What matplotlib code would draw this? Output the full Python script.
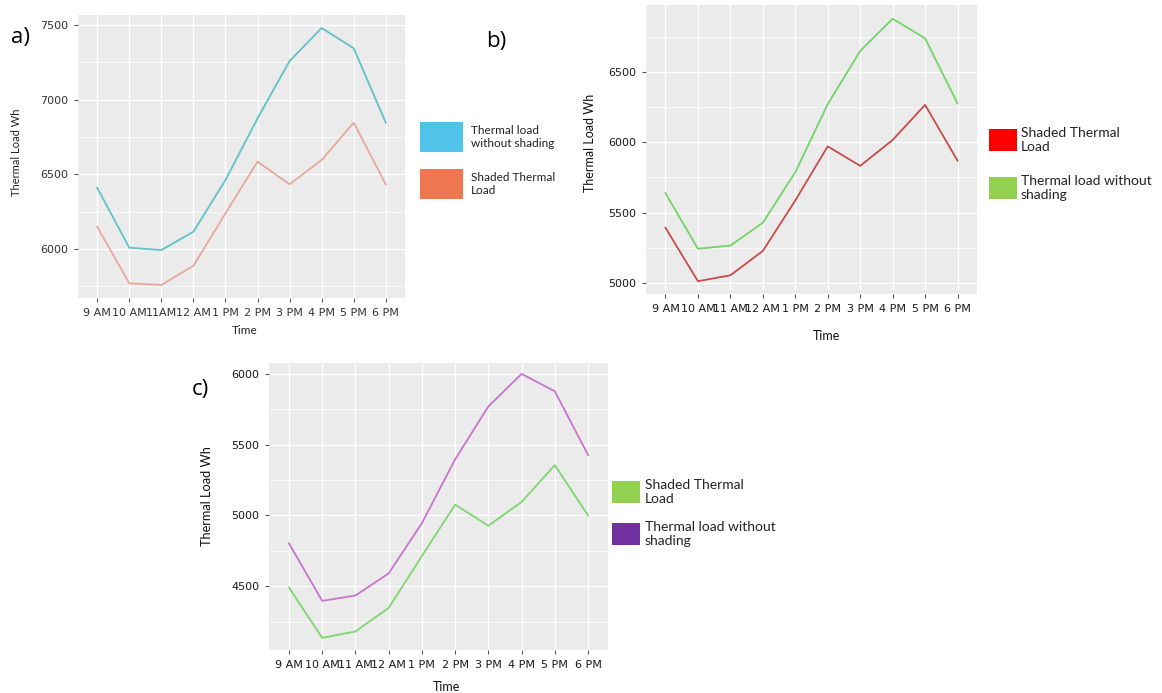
import matplotlib
matplotlib.use("Agg")
import matplotlib.pyplot as plt
from matplotlib.patches import Rectangle
from matplotlib.ticker import MultipleLocator

W, H = 1162, 693

hours_a = ["9 AM", "10 AM", "11AM", "12 AM", "1 PM", "2 PM", "3 PM", "4 PM", "5 PM", "6 PM"]
hours_bc = ["9 AM", "10 AM", "11 AM", "12 AM", "1 PM", "2 PM", "3 PM", "4 PM", "5 PM", "6 PM"]

# Panel a
a_without = [6410, 6009, 5993, 6116, 6462, 6875, 7259, 7480, 7344, 6846]
a_shaded = [6149, 5770, 5759, 5888, 6239, 6585, 6433, 6596, 6846, 6433]
# Panel b
b_without = [5638, 5243, 5265, 5428, 5787, 6271, 6649, 6878, 6739, 6276]
b_shaded = [5392, 5012, 5054, 5227, 5586, 5971, 5832, 6016, 6266, 5869]
# Panel c
c_without = [4803, 4396, 4434, 4590, 4945, 5396, 5770, 6000, 5877, 5427]
c_shaded = [4491, 4135, 4180, 4346, 4713, 5076, 4927, 5095, 5355, 5000]

plt.rcParams['font.family'] = ['Lato', 'DejaVu Sans']

fig = plt.figure(figsize=(W / 100, H / 100), dpi=100)
fig.patch.set_facecolor("white")


def box(l, t, r, b):
    return [l / W, 1 - b / H, (r - l) / W, (b - t) / H]


def fx(x):
    return x / W


def fy(y):
    return 1 - y / H


def make_panel(rect, labels, series, ylim, yticks, tick_color):
    ax = fig.add_axes(box(*rect))
    ax.set_facecolor("#EBEBEB")
    x = list(range(len(labels)))
    for vals, col in series:
        ax.plot(x, vals, color=col, lw=1.3, solid_joinstyle="round")
    ax.set_xlim(-0.6, len(labels) - 1 + 0.6)
    ax.set_ylim(*ylim)
    ax.set_xticks(x)
    ax.set_xticklabels(labels, fontsize=8, color=tick_color,
                       family=["DejaVu Sans"])
    ax.set_yticks(yticks)
    ax.set_yticklabels([str(v) for v in yticks], fontsize=8, color=tick_color,
                       family=["DejaVu Sans"])
    ax.yaxis.set_minor_locator(MultipleLocator(250))
    ax.grid(True, which="major", color="white", lw=1.0)
    ax.grid(True, which="minor", axis="y", color="white", lw=0.5)
    ax.set_axisbelow(True)
    for s in ax.spines.values():
        s.set_visible(False)
    ax.tick_params(axis="both", which="major", length=3, color="#555555", pad=4)
    ax.tick_params(axis="y", which="minor", length=0)
    return ax


def legend(entries, x0, y0, kw, kh, gap, tx, fs, ls):
    for i, (col, txt) in enumerate(entries):
        top = y0 + i * gap
        fig.add_artist(Rectangle((fx(x0), fy(top + kh)), kw / W, kh / H,
                                 transform=fig.transFigure, facecolor=col,
                                 edgecolor="none"))
        fig.text(fx(tx), fy(top + kh / 2), txt, fontsize=fs, color="#222222",
                 va="center", ha="left", linespacing=ls)


# Panel a
ax_a = make_panel((78, 15, 405, 298), hours_a,
                  [(a_without, "#5EC3C9"), (a_shaded, "#E7A89B")],
                  (5672, 7567), [6000, 6500, 7000, 7500], "#333333")
fig.text(fx(17), fy(152), "Thermal Load Wh", rotation=90, fontsize=8,
         ha="center", va="center", color="#222222")
fig.text(fx(245), fy(331), "Time", fontsize=8.5, ha="center", va="center",
         color="#222222")
legend([("#4FC3E8", "Thermal load\nwithout shading"),
        ("#EE7650", "Shaded Thermal\nLoad")], 420, 122, 43, 30, 47, 471, 8.5, 1.3)
fig.text(fx(11), fy(37), "a)", fontsize=16, ha="left", va="center",
         family=["Open Sans", "DejaVu Sans"])

# Panel b
ax_b = make_panel((646, 5, 977, 294), hours_bc,
                  [(b_without, "#72D466"), (b_shaded, "#C84B4B")],
                  (4921, 6976), [5000, 5500, 6000, 6500], "#1A1A1A")
fig.text(fx(590), fy(143), "Thermal Load Wh", rotation=90, fontsize=9,
         ha="center", va="center", color="#111111")
fig.text(fx(827), fy(336), "Time", fontsize=9, ha="center", va="center",
         color="#111111")
legend([("#FF0000", "Shaded Thermal\nLoad"),
        ("#92D050", "Thermal load without\nshading")], 989, 129, 28, 22, 48, 1021,
       10, 1.2)
fig.text(fx(486), fy(41), "b)", fontsize=16, ha="left", va="center",
         family=["Open Sans", "DejaVu Sans"])

# Panel c
ax_c = make_panel((269, 363, 608, 650), hours_bc,
                  [(c_without, "#C874CF"), (c_shaded, "#7ED66E")],
                  (4049, 6077), [4500, 5000, 5500, 6000], "#1A1A1A")
fig.text(fx(207), fy(496), "Thermal Load Wh", rotation=90, fontsize=9.2,
         ha="center", va="center", color="#111111")
fig.text(fx(447), fy(687), "Time", fontsize=9, ha="center", va="center",
         color="#111111")
legend([("#92D050", "Shaded Thermal\nLoad"),
        ("#7030A0", "Thermal load without\nshading")], 612, 481, 28, 22, 42, 645,
       10, 1.2)
fig.text(fx(192), fy(390), "c)", fontsize=16, ha="left", va="center",
         family=["Open Sans", "DejaVu Sans"])

fig.savefig("out.png", dpi=100, facecolor="white")
